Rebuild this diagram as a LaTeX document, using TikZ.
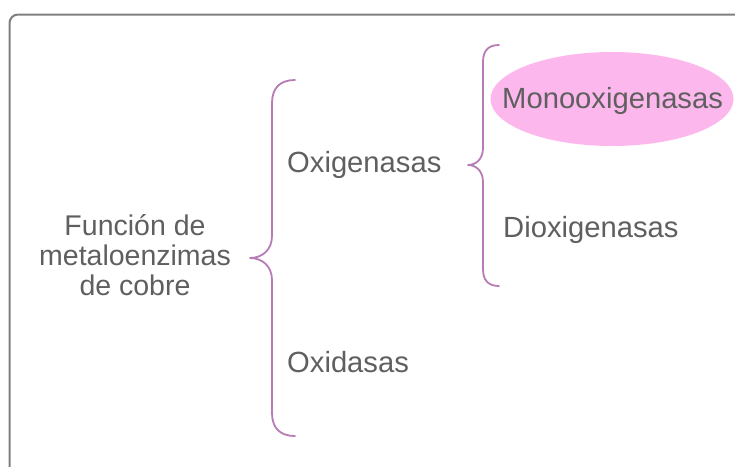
\documentclass[tikz,border=0pt]{standalone}
\usepackage{fontspec}
\setmainfont{Liberation Sans}
\usetikzlibrary{shapes.geometric}
\definecolor{txt}{HTML}{5F5F5F}
\definecolor{frame}{HTML}{7F7F7F}
\definecolor{brace}{HTML}{B77BB5}
\definecolor{pinkfill}{HTML}{FCB8EC}
\begin{document}
\begin{tikzpicture}[x=1pt,y=-1pt,
  lbl/.style={text=txt,inner sep=0pt,anchor=base west,font=\fontsize{29.2}{33}\selectfont},
  bracestyle/.style={draw=brace,line width=1.8pt,line cap=round,line join=round}]
\useasboundingbox (0,0) rectangle (735,466);
% frame
\draw[frame,line width=2pt,rounded corners=8.5pt] (9.5,475) -- (9.5,14.5) -- (745,14.5);
% ellipse
\node[ellipse,fill=pinkfill,minimum width=243pt,minimum height=94pt,inner sep=0pt] (ell) at (612,99) {};
% labels
\node[text=txt,inner sep=0pt,align=center,font=\fontsize{28.5}{30}\selectfont,anchor=base] (root) at (135,295) {Función de\\metaloenzimas\\de cobre};
\node[lbl] (oxi) at (287,172) {Oxigenasas};
\node[lbl] (oxd) at (287,372) {Oxidasas};
\node[lbl] (mono) at (502,108) {Monooxigenasas};
\node[lbl] (diox) at (503,237) {Dioxigenasas};
% big brace
\draw[bracestyle] (295,80) .. controls (280,80) and (272,88) .. (272,103) -- (272,236)
  .. controls (272,250) and (262,258) .. (250,258)
  .. controls (262,258) and (272,266) .. (272,280) -- (272,413)
  .. controls (272,428) and (280,436) .. (295,436);
% small brace
\draw[bracestyle] (499,45) .. controls (488,45) and (483,51) .. (483,62) -- (483,148)
  .. controls (483,159) and (476,165) .. (468,165)
  .. controls (476,165) and (483,171) .. (483,182) -- (483,269)
  .. controls (483,280) and (488,286) .. (499,286);
\end{tikzpicture}
\end{document}
